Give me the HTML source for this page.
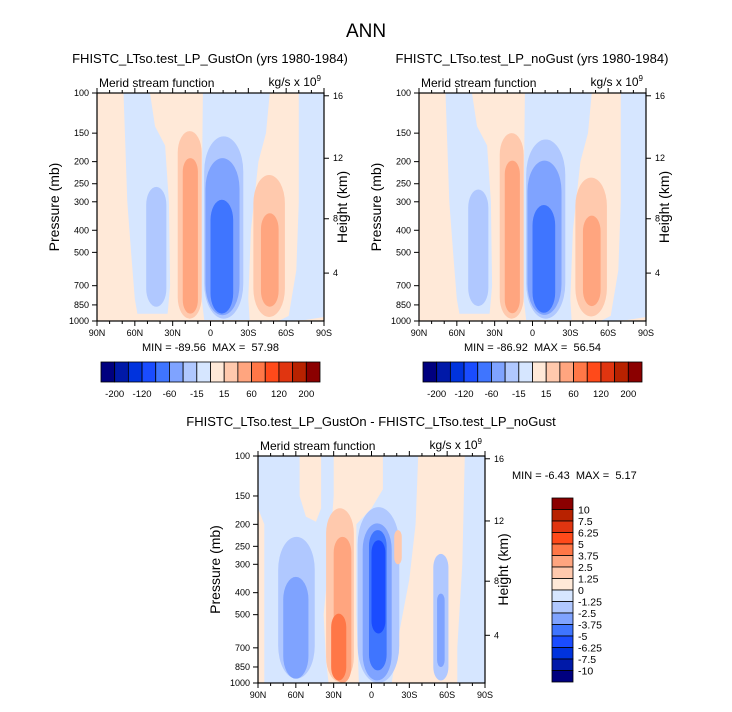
<!DOCTYPE html>
<html><head><meta charset="utf-8"><style>
body{margin:0;background:#fff}
svg text{font-family:"Liberation Sans",sans-serif;fill:#000}
.pre{white-space:pre}
</style></head><body>
<svg id="chart" width="732" height="707" viewBox="0 0 732 707" xmlns="http://www.w3.org/2000/svg">
<text x="366" y="37" font-size="19" text-anchor="middle">ANN</text>
<text x="210" y="63" font-size="13" text-anchor="middle">FHISTC_LTso.test_LP_GustOn (yrs 1980-1984)</text>
<text x="532" y="63" font-size="13" text-anchor="middle">FHISTC_LTso.test_LP_noGust (yrs 1980-1984)</text>
<text x="371" y="426" font-size="13" text-anchor="middle">FHISTC_LTso.test_LP_GustOn - FHISTC_LTso.test_LP_noGust</text>
<g id="layer"></g>
</svg>
<script>
// Data
const colors=['#00007f','#0019a8','#0033dd','#1a4cff','#3f75ff','#7fa3ff','#b0c8ff','#d6e6ff','#ffe9d8','#ffc9ad','#ffa57f','#ff7747','#ff4a1a','#e03510','#b82200','#8b0000'];
const latTicks=[90,60,30,0,-30,-60,-90];
const latTickLabels=['90N','60N','30N','0','30S','60S','90S'];
const presTicks=[100,150,200,250,300,400,500,700,850,1000];
const heightTicks=[4,8,12,16];
const topBarLabels=['-200','-120','-60','-15','15','60','120','200'];
const diffBarLabels=['10','7.5','6.25','5','3.75','2.5','1.25','0','-1.25','-2.5','-3.75','-5','-6.25','-7.5','-10'];
const panelMin=['-89.56','-86.92','-6.43'];
const panelMax=['57.98','56.54','5.17'];
// polygon regions: panel, level index, points [lat,p]
const polyPanel=[0,0,0,1,1,1,2,2,2,2];
const polyLevel=[7,7,7,7,7,7,7,8,7,7];
const polyPts=[
 [[69,100],[48,100],[44,140],[36,170],[33,300],[32,700],[34,930],[58,930],[60,800],[63,500],[66,300]],
 [[6,100],[-47,100],[-44,150],[-38,200],[-32,400],[-30,800],[-31,990],[5,990],[7,800],[7,300]],
 [[-70,100],[-90,100],[-90,960],[-75,990],[-54,1000],[-62,950],[-68,600],[-70,300]],
 [[69,100],[48,100],[44,140],[36,170],[33,300],[32,700],[34,930],[58,930],[60,800],[63,500],[66,300]],
 [[6,100],[-47,100],[-44,150],[-38,200],[-32,400],[-30,800],[-31,990],[5,990],[7,800],[7,300]],
 [[-70,100],[-90,100],[-90,960],[-75,990],[-54,1000],[-62,950],[-68,600],[-70,300]],
 [[90,100],[30,100],[30,150],[34,300],[38,500],[36,800],[34,1000],[85,1000],[85,200],[90,170]],
 [[57,100],[40,100],[40,170],[44,195],[52,185],[57,150]],
 [[-9,100],[-37,100],[-35,200],[-30,350],[-22,600],[-16,1000],[10,1000],[12,500],[12,200],[0,170],[-9,140]],
 [[-74,100],[-90,100],[-90,1000],[-68,1000],[-68,700],[-72,300]]
];
// elliptical blobs
const blobPanel=[0,0,0,0,0,0,0,0, 1,1,1,1,1,1,1,1, 2,2,2,2,2,2,2,2,2,2,2,2];
const blobLatN=[51,26,22,5,4,0,-34,-40, 51,26,22,5,4,0,-34,-40, 74,70,36,30,32,11,7,2,0,-18,-49,-52];
const blobLatS=[35,7,10,-26,-23,-18,-59,-54, 35,7,10,-26,-23,-18,-59,-54, 45,50,14,16,20,-22,-16,-12,-11,-24,-61,-58];
const blobPTop=[258,147,193,155,193,294,229,337, 265,150,198,160,198,310,235,345, 227,341,170,227,495,168,198,212,235,212,270,404];
const blobPBot=[866,977,928,977,943,928,960,866, 860,977,925,977,940,920,955,860, 957,957,990,1000,975,1000,975,880,605,300,975,850];
const blobLevel=[6,9,10,6,5,4,9,10, 6,9,10,6,5,4,9,10, 6,5,9,10,11,6,5,4,3,9,6,5];

const panels=[{x0:97,x1:324,y0:93,y1:321},{x0:419,x1:646,y0:93,y1:321},{x0:258,x1:485,y0:456,y1:683}];
const NS='http://www.w3.org/2000/svg';
const layer=document.getElementById('layer');
function mk(tag,attrs,parent){const e=document.createElementNS(NS,tag);for(const k in attrs)e.setAttribute(k,attrs[k]);(parent||layer).appendChild(e);return e;}
function xs(P,lat){return P.x0+(90-lat)/180*(P.x1-P.x0);}
function ys(P,p){return P.y0+Math.log10(p/100)*(P.y1-P.y0);}
function pOfZ(z){return z<=11?1013.25*Math.pow(1-0.0065*z*1000/288.15,5.255):226.3*Math.exp(-(z-11)/6.34);}

panels.forEach((P,pi)=>{
  const g=mk('g',{});
  
  
  const cid='clip'+pi;
  const cp=mk('clipPath',{id:cid},g);mk('rect',{x:P.x0,y:P.y0,width:P.x1-P.x0,height:P.y1-P.y0},cp);
  const fg=mk('g',{'clip-path':'url(#'+cid+')'},g);
  const bg=mk('rect',{x:P.x0,y:P.y0,width:P.x1-P.x0,height:P.y1-P.y0,fill:colors[8]},fg);
  
  
  polyPanel.forEach((pp,i)=>{if(pp!==pi)return;
    const pts=polyPts[i].map(q=>xs(P,q[0]).toFixed(1)+','+ys(P,q[1]).toFixed(1)).join(' ');
    const e=mk('polygon',{points:pts,fill:colors[polyLevel[i]],'stroke-linejoin':'round'},fg);
    
    
  });
  blobPanel.forEach((bp,i)=>{if(bp!==pi)return;
    const xa=xs(P,blobLatN[i]),xb=xs(P,blobLatS[i]),ya=ys(P,blobPTop[i]),yb=ys(P,blobPBot[i]);
    const w=xb-xa,h=yb-ya;
    const e=mk('rect',{x:xa,y:ya,width:w,height:h,rx:w/2,ry:Math.min(h/4,w*0.9),fill:colors[blobLevel[i]]},fg);
    
    
  });
  mk('rect',{x:P.x0,y:P.y0,width:P.x1-P.x0,height:P.y1-P.y0,fill:'none',stroke:'#000','stroke-width':1.2},g);
  for(let lat=90;lat>=-90;lat-=10){const x=xs(P,lat);const L=lat%30===0?5:3;
    mk('line',{x1:x,x2:x,y1:P.y1,y2:P.y1+L,stroke:'#000'},g);mk('line',{x1:x,x2:x,y1:P.y0,y2:P.y0-L,stroke:'#000'},g);}
  latTicks.forEach((lat,i)=>{const t=mk('text',{x:xs(P,lat),y:P.y1+15,'font-size':9,'text-anchor':'middle'},g);t.textContent=latTickLabels[i];
    });
  presTicks.forEach(p=>{const y=ys(P,p);mk('line',{x1:P.x0-5,x2:P.x0,y1:y,y2:y,stroke:'#000'},g);
    const t=mk('text',{x:P.x0-8,y:y+3,'font-size':9,'text-anchor':'end'},g);t.textContent=p;
    });
  heightTicks.forEach(z=>{const y=ys(P,pOfZ(z));mk('line',{x1:P.x1,x2:P.x1+5,y1:y,y2:y,stroke:'#000'},g);
    const t=mk('text',{x:P.x1+9,y:y+3,'font-size':9},g);t.textContent=z;
    });
  const cy=(P.y0+P.y1)/2;
  const yl=mk('text',{x:0,y:0,'font-size':14,'text-anchor':'middle',transform:`translate(${P.x0-38},${cy}) rotate(-90)`},g);yl.textContent='Pressure (mb)';
  
  const hl=mk('text',{x:0,y:0,'font-size':14,'text-anchor':'middle',transform:`translate(${P.x1+23},${cy}) rotate(-90)`},g);hl.textContent='Height (km)';
  
  const lt=mk('text',{x:P.x0+2,y:P.y0-6,'font-size':12},g);lt.textContent='Merid stream function';
  
  const rt=mk('text',{x:P.x1-3,y:P.y0-7,'font-size':12,'text-anchor':'end'},g);rt.innerHTML='kg/s x 10<tspan font-size="8" dy="-5">9</tspan>';
  
  let mm;
  if(pi<2){mm=mk('text',{x:(P.x0+P.x1)/2,y:P.y1+30,'font-size':11,'text-anchor':'middle','class':'pre'},g);}
  else{mm=mk('text',{x:512,y:479,'font-size':11,'class':'pre'},g);}
  mm.textContent='MIN = '+panelMin[pi]+'  MAX =  '+panelMax[pi];
  
});
[101,423].forEach((bx,bi)=>{
  const g=mk('g',{});
  
  
  const bw=(642-423)/16;
  colors.forEach((c,i)=>{const r=mk('rect',{x:bx+i*bw,y:362,width:bw,height:20,fill:c,stroke:'#000','stroke-width':0.8},g);
    });
  topBarLabels.forEach((l,k)=>{const t=mk('text',{x:bx+(2*k+1)*bw,y:397,'font-size':9.5,'text-anchor':'middle'},g);t.textContent=l;
    });
});
{
  const g=mk('g',{});
  
  
  const bh=(682-498)/16;
  colors.slice().reverse().forEach((c,i)=>{const r=mk('rect',{x:552,y:498+i*bh,width:21,height:bh,fill:c,stroke:'#000','stroke-width':0.8},g);
    });
  diffBarLabels.forEach((l,k)=>{const t=mk('text',{x:578,y:498+(k+1)*bh+4,'font-size':10.5},g);t.textContent=l;
    });
}
</script>
</body></html>
